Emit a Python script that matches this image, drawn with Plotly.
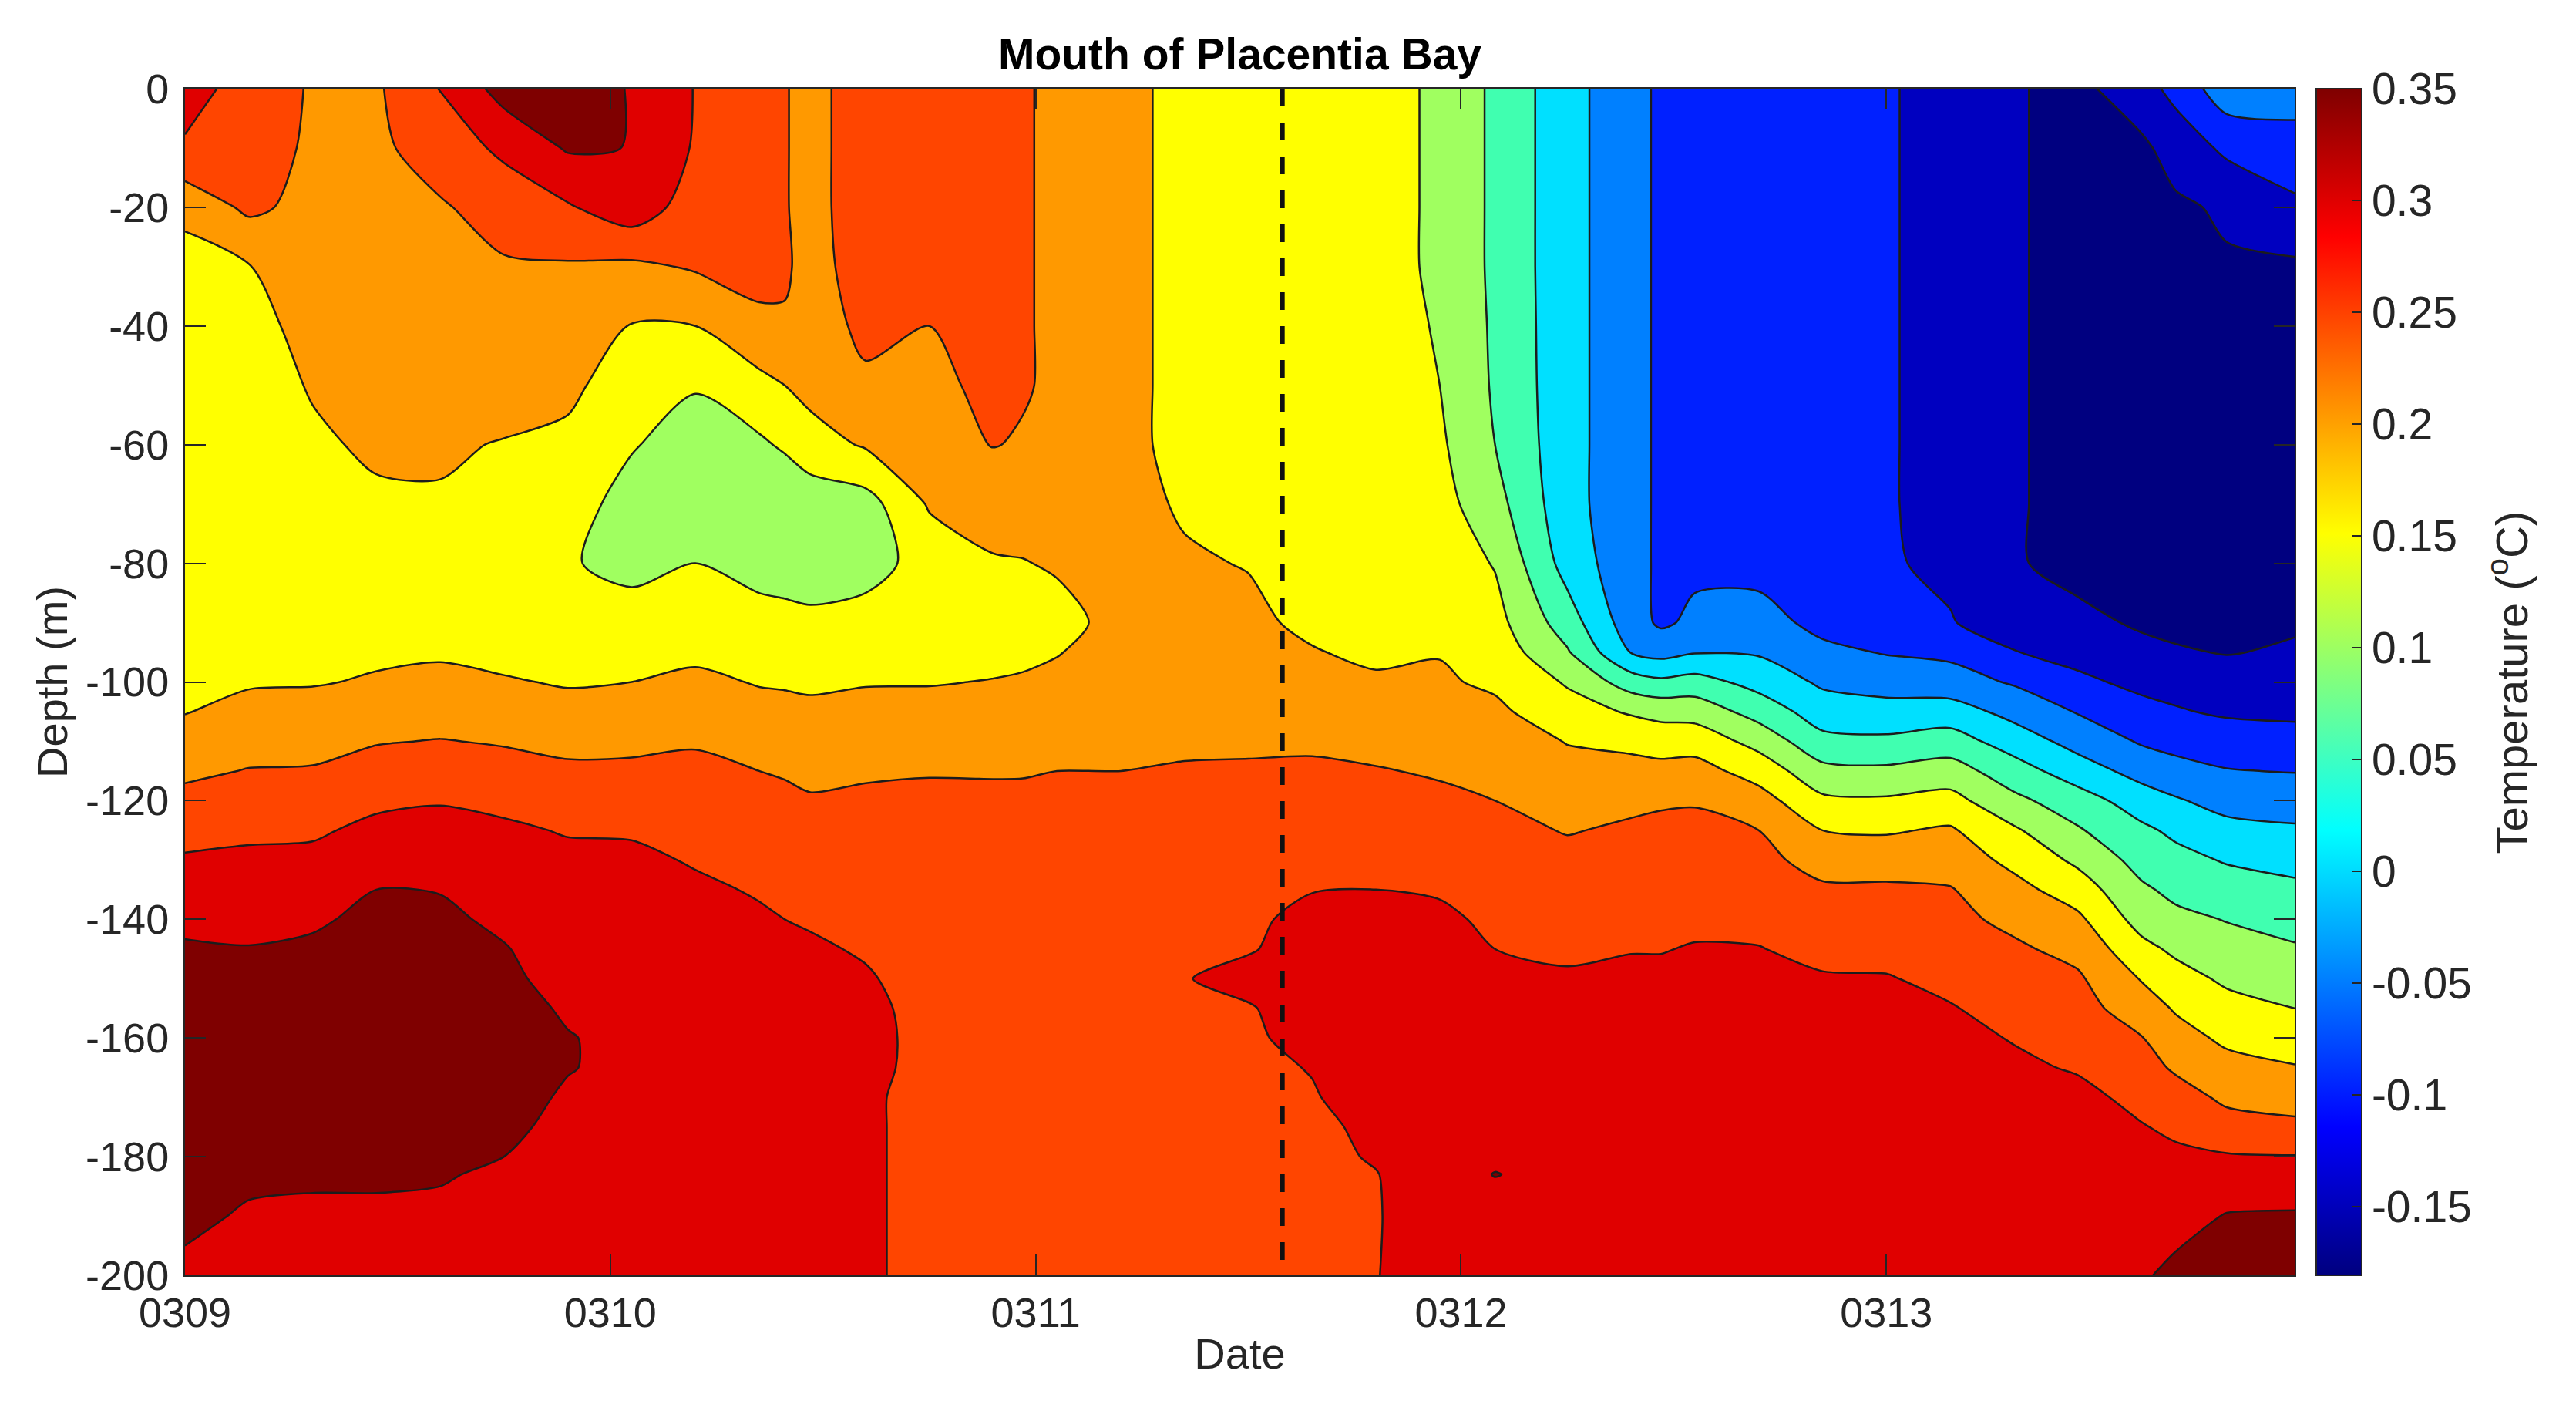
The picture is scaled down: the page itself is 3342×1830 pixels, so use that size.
import numpy as np
import plotly.graph_objs as go

# sampling positions
days = [0, .15, .3, .45, .6, .75, .9, 1.05, 1.2, 1.35, 1.41, 1.47, 1.6, 1.75, 1.9, 1.97, 2.05, 2.2, 2.35, 2.5,
        2.65, 2.8, 2.95, 3.08, 3.25, 3.4, 3.47, 3.55, 3.7, 3.85, 4.0, 4.15, 4.3, 4.45, 4.6, 4.68, 4.8, 4.96]
depths = [0, -10, -20, -30, -40, -50, -60, -70, -80, -90, -95, -100, -105, -110, -115, -120, -125, -130,
          -135, -140, -145, -150, -155, -160, -165, -170, -175, -180, -183, -190, -200]

# temperature, one line per day position, top to bottom
temp_by_day = [
    [.32, .294, .215, .178, .17, .17, .165, .165, .165, .17, .175, .185, .198, .22, .241, .263, .285, .305, .323, .34, .355, .365, .37, .375, .375, .375, .375, .37, .365, .36, .34],
    [.28, .28, .26, .198, .175, .17, .165, .165, .165, .17, .18, .195, .215, .232, .252, .272, .292, .308, .322, .336, .352, .365, .37, .375, .375, .375, .37, .365, .358, .345, .32],
    [.245, .24, .235, .23, .225, .205, .19, .18, .175, .18, .19, .197, .216, .233, .254, .275, .294, .31, .327, .343, .358, .365, .37, .375, .375, .375, .37, .362, .358, .34, .32],
    [.243, .24, .24, .235, .23, .225, .21, .19, .18, .185, .193, .204, .224, .247, .27, .292, .31, .33, .35, .362, .37, .375, .38, .38, .38, .38, .375, .365, .358, .34, .32],
    [.302, .273, .245, .235, .225, .215, .207, .195, .175, .185, .195, .21, .228, .252, .275, .297, .315, .335, .348, .36, .37, .375, .38, .38, .38, .378, .37, .36, .354, .34, .32],
    [.37, .31, .27, .245, .235, .225, .197, .18, .175, .18, .19, .203, .222, .246, .268, .29, .307, .317, .328, .34, .353, .36, .365, .37, .37, .365, .358, .35, .342, .335, .32],
    [.39, .355, .295, .245, .23, .21, .19, .178, .153, .17, .18, .197, .212, .235, .26, .278, .297, .31, .315, .32, .325, .333, .345, .352, .352, .345, .34, .33, .33, .325, .32],
    [.345, .349, .33, .24, .198, .176, .155, .125, .14, .165, .18, .20, .215, .238, .26, .28, .295, .31, .315, .32, .325, .33, .335, .34, .34, .34, .335, .33, .325, .325, .32],
    [.298, .295, .275, .255, .20, .155, .12, .105, .15, .175, .19, .21, .225, .245, .263, .28, .287, .296, .308, .315, .32, .325, .33, .335, .335, .335, .335, .33, .325, .32, .315],
    [.27, .27, .27, .265, .24, .185, .142, .105, .135, .165, .185, .197, .215, .233, .25, .27, .278, .287, .296, .306, .315, .32, .325, .33, .33, .33, .33, .33, .325, .32, .315],
    [.252, .252, .252, .254, .247, .20, .157, .11, .128, .165, .183, .195, .213, .229, .245, .262, .271, .281, .29, .30, .311, .317, .322, .327, .327, .327, .327, .327, .322, .32, .315],
    [.24, .24, .24, .24, .235, .215, .18, .12, .115, .165, .18, .192, .21, .225, .24, .254, .264, .275, .285, .295, .307, .315, .32, .325, .325, .325, .325, .325, .32, .32, .315],
    [.266, .266, .266, .262, .257, .245, .205, .13, .13, .17, .185, .197, .215, .235, .243, .26, .27, .28, .285, .29, .295, .305, .315, .32, .318, .31, .31, .31, .31, .31, .31],
    [.285, .285, .28, .27, .25, .235, .225, .205, .17, .18, .19, .197, .218, .235, .247, .26, .265, .27, .27, .27, .275, .28, .28, .28, .28, .28, .28, .28, .28, .28, .28],
    [.265, .265, .265, .265, .265, .265, .252, .225, .195, .175, .185, .202, .22, .235, .247, .258, .265, .27, .27, .27, .27, .27, .27, .27, .27, .27, .27, .27, .27, .27, .27],
    [.255, .255, .255, .255, .255, .255, .245, .222, .198, .18, .19, .205, .222, .235, .248, .256, .262, .268, .268, .268, .268, .268, .268, .268, .268, .268, .268, .268, .268, .268, .268],
    [.24, .24, .24, .24, .24, .24, .235, .22, .205, .185, .198, .21, .225, .235, .25, .255, .26, .265, .265, .265, .265, .265, .265, .265, .265, .265, .265, .265, .265, .265, .265],
    [.215, .215, .215, .215, .215, .215, .215, .215, .215, .215, .218, .222, .228, .238, .25, .26, .265, .27, .275, .275, .278, .28, .28, .28, .28, .28, .28, .28, .28, .28, .28],
    [.185, .185, .185, .185, .185, .185, .185, .195, .205, .21, .22, .225, .23, .24, .255, .262, .27, .275, .28, .285, .293, .297, .29, .285, .285, .28, .28, .28, .28, .28, .28],
    [.175, .175, .175, .175, .175, .175, .175, .18, .198, .21, .215, .22, .23, .24, .257, .268, .275, .28, .285, .29, .295, .32, .295, .29, .285, .28, .28, .28, .28, .28, .28],
    [.17, .17, .17, .17, .17, .17, .17, .172, .178, .19, .203, .21, .225, .24, .26, .27, .28, .29, .298, .315, .325, .33, .33, .32, .303, .295, .29, .285, .285, .285, .285],
    [.165, .165, .165, .165, .165, .165, .165, .165, .17, .18, .19, .207, .22, .235, .253, .265, .275, .29, .30, .31, .32, .325, .33, .33, .33, .33, .31, .305, .298, .296, .298],
    [.143, .143, .143, .143, .147, .15, .158, .168, .178, .185, .198, .206, .215, .228, .245, .26, .27, .28, .295, .31, .32, .325, .33, .335, .335, .335, .335, .335, .335, .335, .33],
    [.09, .09, .09, .09, .092, .094, .10, .118, .147, .167, .18, .192, .21, .225, .237, .25, .26, .27, .28, .29, .30, .31, .32, .33, .335, .34, .342, .344, .351, .335, .33],
    [.018, .018, .018, .018, .018, .018, .018, .018, .03, .075, .105, .145, .17, .198, .215, .233, .248, .26, .27, .28, .293, .305, .315, .325, .33, .335, .34, .34, .34, .335, .33],
    [-.034, -.034, -.034, -.034, -.034, -.034, -.034, -.034, -.034, -.028, -.002, .075, .145, .185, .22, .243, .255, .265, .275, .285, .298, .31, .32, .325, .33, .335, .34, .34, .34, .335, .33],
    [-.058, -.058, -.058, -.058, -.058, -.058, -.058, -.058, -.058, -.058, -.017, .06, .135, .178, .215, .245, .26, .27, .28, .29, .298, .31, .32, .33, .335, .34, .34, .34, .34, .335, .33],
    [-.062, -.062, -.062, -.062, -.062, -.062, -.062, -.062, -.06, -.04, -.003, .07, .13, .18, .218, .247, .26, .27, .28, .29, .303, .315, .325, .33, .335, .34, .34, .34, .34, .335, .33],
    [-.072, -.072, -.072, -.072, -.072, -.072, -.072, -.072, -.068, -.03, -.005, .032, .08, .133, .18, .22, .25, .265, .275, .285, .302, .315, .325, .33, .335, .34, .34, .34, .34, .335, .33],
    [-.082, -.082, -.082, -.082, -.082, -.082, -.082, -.082, -.082, -.065, -.038, -.008, .025, .064, .115, .16, .20, .23, .258, .27, .285, .305, .315, .325, .33, .335, .34, .34, .34, .335, .33],
    [-.095, -.095, -.095, -.095, -.095, -.095, -.095, -.095, -.095, -.08, -.053, -.02, .018, .06, .11, .157, .195, .228, .258, .27, .285, .303, .315, .325, .33, .335, .34, .34, .34, .335, .33],
    [-.119, -.119, -.119, -.119, -.119, -.119, -.119, -.119, -.11, -.097, -.06, -.03, .023, .072, .122, .167, .206, .228, .253, .263, .275, .288, .303, .315, .325, .33, .335, .335, .335, .335, .33],
    [-.146, -.146, -.146, -.146, -.146, -.146, -.146, -.146, -.146, -.125, -.098, -.055, -.016, .027, .072, .112, .157, .187, .216, .238, .258, .27, .283, .297, .31, .32, .33, .33, .33, .33, .33],
    [-.163, -.163, -.163, -.163, -.163, -.163, -.163, -.163, -.163, -.14, -.116, -.09, -.053, -.018, .024, .073, .105, .14, .175, .21, .235, .257, .268, .28, .295, .315, .325, .33, .33, .33, .33],
    [-.12, -.16, -.168, -.172, -.175, -.175, -.175, -.172, -.165, -.155, -.14, -.112, -.085, -.055, -.018, .025, .06, .082, .108, .13, .165, .197, .225, .252, .27, .285, .303, .32, .328, .335, .345],
    [-.085, -.13, -.158, -.165, -.17, -.175, -.175, -.172, -.168, -.16, -.146, -.12, -.095, -.067, -.032, .005, .04, .065, .088, .112, .14, .17, .195, .22, .243, .272, .29, .31, .318, .335, .36],
    [-.02, -.09, -.143, -.155, -.162, -.168, -.17, -.17, -.168, -.16, -.152, -.13, -.108, -.07, -.048, -.017, .015, .046, .073, .098, .118, .141, .168, .19, .217, .24, .27, .304, .325, .352, .37],
    [-.03, -.068, -.11, -.158, -.165, -.17, -.172, -.17, -.165, -.155, -.145, -.128, -.108, -.085, -.052, -.02, .006, .035, .06, .082, .105, .127, .15, .176, .203, .232, .26, .302, .318, .355, .37],
]

date_ticks = [0, 1, 2, 3, 4]
date_labels = ['0309', '0310', '0311', '0312', '0313']
depth_ticks = [0, -20, -40, -60, -80, -100, -120, -140, -160, -180, -200]
depth_labels = ['0', '-20', '-40', '-60', '-80', '-100', '-120', '-140', '-160', '-180', '-200']
cbar_ticks = [.35, .3, .25, .2, .15, .1, .05, 0, -.05, -.1, -.15]
cbar_labels = ['0.35', '0.3', '0.25', '0.2', '0.15', '0.1', '0.05', '0', '-0.05', '-0.1', '-0.15']
event_day = [2.58, 2.58]
event_depth = [0, -200]

band_colors = ['#000080', '#0000c0', '#0020ff', '#0080ff', '#00e0ff', '#40ffb0',
               '#a0ff60', '#ffff00', '#ff9900', '#ff4500', '#e00000', '#7f0000']
jet = [[0, '#00007f'], [.125, '#0000ff'], [.375, '#00ffff'], [.625, '#ffff00'], [.875, '#ff0000'], [1, '#7f0000']]

FONT = 'Liberation Sans, Arial, sans-serif'
INK = '#262626'

band_scale = [[i / (len(band_colors) - 1), c] for i, c in enumerate(band_colors)]
z = np.array(temp_by_day).T

fig = go.Figure()
fig.add_trace(go.Contour(
    x=days, y=depths, z=z,
    autocontour=False,
    contours=dict(start=-.15, end=.35, size=.05, coloring='fill', showlines=True),
    colorscale=band_scale,
    showscale=False,
    line=dict(color='#1c1c1c', width=2.5, smoothing=.8),
))
fig.add_trace(go.Scatter(
    x=event_day, y=event_depth, mode='lines',
    line=dict(color='#111111', width=6, dash='23px,21px'),
    showlegend=False,
))
# colour key only: the filled bands use their own discrete colours
fig.add_trace(go.Scatter(
    x=[event_day[0]], y=[event_depth[1]], mode='markers', showlegend=False,
    marker=dict(
        size=1, opacity=0, color=[0], cmin=-.1807, cmax=.35, colorscale=jet, showscale=True,
        colorbar=dict(
            thicknessmode='pixels', thickness=59, lenmode='pixels', len=1539,
            x=1.0102, xanchor='left', xpad=0, y=1, yanchor='top', ypad=0,
            outlinecolor=INK, outlinewidth=2,
            tickmode='array', tickvals=cbar_ticks, ticktext=cbar_labels,
            ticks='inside', ticklen=14, tickwidth=2, tickcolor=INK,
            tickfont=dict(family=FONT, size=57, color=INK),
        ),
    ),
))

axis_style = dict(
    showgrid=False, zeroline=False, showline=True, linecolor=INK, linewidth=2, mirror='allticks',
    ticks='inside', ticklen=27, tickwidth=2, tickcolor=INK,
    tickfont=dict(family=FONT, size=54, color=INK),
)
fig.update_layout(
    width=3342, height=1830,
    margin=dict(l=240, r=365, t=115, b=176, autoexpand=False),
    paper_bgcolor='white', plot_bgcolor='white',
    showlegend=False,
    title=dict(text='<b>Mouth of Placentia Bay</b>', x=.5, xref='paper', xanchor='center',
               y=1 - 70 / 1830, yref='container', yanchor='middle',
               font=dict(family=FONT, size=57, color='black')),
    xaxis=dict(range=[0, 4.96], tickmode='array', tickvals=date_ticks, ticktext=date_labels,
               ticklabelstandoff=0,
               title=dict(text='Date', standoff=5, font=dict(family=FONT, size=56, color=INK)),
               **axis_style),
    yaxis=dict(range=[-200, 0], tickmode='array', tickvals=depth_ticks, ticktext=depth_labels,
               ticklabelstandoff=8,
               title=dict(text='Depth (m)', standoff=6, font=dict(family=FONT, size=56, color=INK)),
               **axis_style),
    annotations=[dict(text='Temperature (<sup>o</sup>C)', textangle=-90, showarrow=False,
                      xref='paper', yref='paper', x=1.1012, y=.5, xanchor='center', yanchor='middle',
                      font=dict(family=FONT, size=58, color=INK))],
)

fig.write_html('out.html', config=dict(displayModeBar=False),
               post_script="document.body.style.margin='0';document.body.style.overflow='hidden';")
